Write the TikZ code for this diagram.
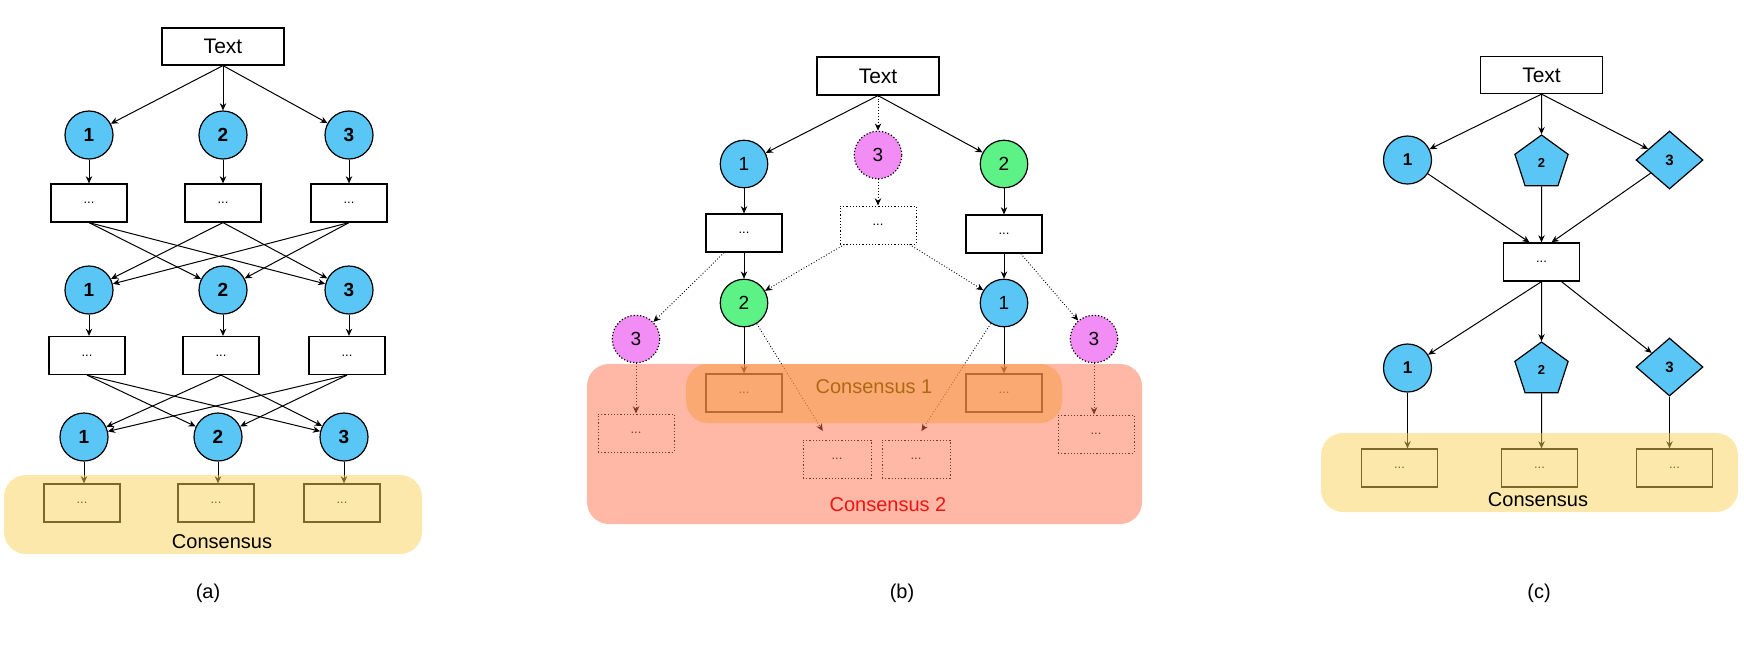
\documentclass[tikz,border=0pt]{standalone}
\usepackage{fontspec}
\setmainfont{Liberation Sans}
\usepackage{xcolor}
\usetikzlibrary{shapes.geometric,arrows.meta}

\definecolor{agblue}{RGB}{90,198,246}
\definecolor{aggreen}{RGB}{92,242,134}
\definecolor{agpink}{RGB}{242,141,245}
\definecolor{consyel}{RGB}{251,209,89}
\definecolor{conssal}{RGB}{255,111,77}
\definecolor{consora}{RGB}{247,157,66}
\definecolor{consbrown}{RGB}{172,106,20}
\definecolor{consred}{RGB}{238,20,20}

\begin{document}
\begin{tikzpicture}[x=0.5pt, y=-0.5pt, >={Stealth[length=3.6pt,width=3.2pt]}]
    \tikzstyle{txt} = [rectangle, draw, line width=0.6pt, minimum width=61pt, minimum height=18.5pt, inner sep=0pt, font=\fontsize{10.5}{12}\selectfont]
    \tikzstyle{box} = [rectangle, draw, line width=0.6pt, minimum width=38pt, minimum height=19pt, inner sep=0pt, font=\fontsize{6.5}{7}\selectfont]
    \tikzstyle{dotbox} = [box, densely dotted, line width=0.5pt]
    \tikzstyle{agent} = [circle, draw, line width=0.6pt, fill=agblue, minimum size=24pt, inner sep=0pt, font=\bfseries\fontsize{9.5}{10}\selectfont]
    \tikzstyle{oval} = [circle, draw, line width=0.6pt, minimum size=23.75pt, inner sep=0pt, font=\fontsize{9.5}{10}\selectfont]
    \tikzstyle{penta} = [regular polygon, regular polygon sides=5, draw, line width=0.6pt, fill=agblue, minimum size=28pt, inner sep=0pt, font=\bfseries\fontsize{6.5}{7}\selectfont]
    \tikzstyle{diam} = [diamond, draw, line width=0.6pt, fill=agblue, minimum width=33.5pt, minimum height=29pt, aspect=1.15, inner sep=0pt, font=\bfseries\fontsize{7.5}{8}\selectfont]
    \tikzstyle{flow} = [->, line width=0.5pt]
    \tikzstyle{maybe} = [->, densely dotted, line width=0.45pt]
    \tikzstyle{label} = [font=\fontsize{10}{12}\selectfont]

    \useasboundingbox (0,0) rectangle (1744,650);

    % (a)
    \node[txt] (aText) at (223,46.5) {Text};
    \node[agent, below of=aText, node distance=44.25pt] (aAg12) {2};
    \node[agent, left of=aAg12, node distance=67pt] (aAg11) {1};
    \node[agent, right of=aAg12, node distance=63pt] (aAg13) {3};
    \node[box, below of=aAg11, node distance=34pt] (aOut11) {...};
    \node[box, below of=aAg12, node distance=34pt] (aOut12) {...};
    \node[box, below of=aAg13, node distance=34pt] (aOut13) {...};
    \node[agent, below of=aOut11, node distance=43.5pt] (aAg21) {1};
    \node[agent, below of=aOut12, node distance=43.5pt] (aAg22) {2};
    \node[agent, below of=aOut13, node distance=43.5pt] (aAg23) {3};
    \node[box, below of=aAg21, node distance=32.75pt, xshift=-1pt] (aOut21) {...};
    \node[box, below of=aAg22, node distance=32.75pt, xshift=-1pt] (aOut22) {...};
    \node[box, below of=aAg23, node distance=32.75pt, xshift=-1pt] (aOut23) {...};
    \node[agent, below of=aOut21, node distance=40.75pt, xshift=-1.5pt] (aAg31) {1};
    \node[agent, below of=aOut22, node distance=40.75pt, xshift=-1.5pt] (aAg32) {2};
    \node[agent, below of=aOut23, node distance=40.75pt, xshift=-1.5pt] (aAg33) {3};
    \node[box, below of=aAg31, node distance=33pt, xshift=-1pt] (aCon1) {...};
    \node[box, below of=aAg32, node distance=33pt, xshift=-1pt] (aCon2) {...};
    \node[box, below of=aAg33, node distance=33pt, xshift=-1pt] (aCon3) {...};

    \draw[flow] (aText.south) -- (aAg11);
    \draw[flow] (aText.south) -- (aAg12);
    \draw[flow] (aText.south) -- (aAg13);
    \draw[flow] (aAg11) -- (aAg11 |- aOut11.north);
    \draw[flow] (aAg12) -- (aAg12 |- aOut12.north);
    \draw[flow] (aAg13) -- (aAg13 |- aOut13.north);
    \draw[flow] (aOut11.south) -- (aAg22);
    \draw[flow] (aOut11.south) -- (aAg23);
    \draw[flow] (aOut12.south) -- (aAg21);
    \draw[flow] (aOut12.south) -- (aAg23);
    \draw[flow] (aOut13.south) -- (aAg21);
    \draw[flow] (aOut13.south) -- (aAg22);
    \draw[flow] (aAg21) -- (aAg21 |- aOut21.north);
    \draw[flow] (aAg22) -- (aAg22 |- aOut22.north);
    \draw[flow] (aAg23) -- (aAg23 |- aOut23.north);
    \draw[flow] (aOut21.south) -- (aAg32);
    \draw[flow] (aOut21.south) -- (aAg33);
    \draw[flow] (aOut22.south) -- (aAg31);
    \draw[flow] (aOut22.south) -- (aAg33);
    \draw[flow] (aOut23.south) -- (aAg31);
    \draw[flow] (aOut23.south) -- (aAg32);
    \draw[flow] (aAg31) -- (aAg31 |- aCon1.north);
    \draw[flow] (aAg32) -- (aAg32 |- aCon2.north);
    \draw[flow] (aAg33) -- (aAg33 |- aCon3.north);

    \fill[consyel, fill opacity=0.5, rounded corners=11pt] (4,475) rectangle (422,554);
    \node[label] (aConsensus) at (222,542) {Consensus};
    \node[label] (aCaption) at (208,593) {(a)};

    % (b)
    \node[txt, minimum height=19pt] (bText) at (878,76) {Text};
    \node[oval, fill=agpink, densely dotted, below of=bText, node distance=39.5pt] (bAg3) {3};
    \node[oval, fill=agblue, below of=bText, node distance=44pt, xshift=-67pt] (bAg1) {1};
    \node[oval, fill=aggreen, below of=bText, node distance=44pt, xshift=63pt] (bAg2) {2};
    \node[box, below of=bAg1, node distance=34.5pt] (bOut1) {...};
    \node[dotbox, below of=bAg3, node distance=35pt] (bOut3) {...};
    \node[box, below of=bAg2, node distance=35pt] (bOut2) {...};
    \node[oval, fill=aggreen, below of=bOut1, node distance=35pt] (bRe2) {2};
    \node[oval, fill=agblue, below of=bOut2, node distance=34.5pt] (bRe1) {1};
    \node[oval, fill=agpink, densely dotted, below of=bRe2, node distance=18pt, xshift=-54pt] (bRe3a) {3};
    \node[oval, fill=agpink, densely dotted, below of=bRe1, node distance=18pt, xshift=45pt] (bRe3b) {3};
    \node[box, below of=bRe2, node distance=45pt] (bCon2) {...};
    \node[box, below of=bRe1, node distance=45pt] (bCon1) {...};
    \node[dotbox, below of=bRe3a, node distance=47pt] (bDot3a) {...};
    \node[dotbox, below of=bRe3b, node distance=47.5pt, xshift=1pt] (bDot3b) {...};
    \node[dotbox, minimum width=34pt, below of=bRe2, node distance=78pt, xshift=46.5pt] (bDot2) {...};
    \node[dotbox, minimum width=34pt, below of=bRe1, node distance=78pt, xshift=-44pt] (bDot1) {...};

    \draw[flow] (bText.south) -- (bAg1);
    \draw[maybe] (bText.south) -- (bAg3);
    \draw[flow] (bText.south) -- (bAg2);
    \draw[flow] (bAg1) -- (bAg1 |- bOut1.north);
    \draw[maybe] (bAg3) -- (bAg3 |- bOut3.north);
    \draw[flow] (bAg2) -- (bAg2 |- bOut2.north);
    \draw[flow] (bOut1) -- (bRe2);
    \draw[maybe] (bOut1) -- (bRe3a);
    \draw[maybe] (bOut3) -- (bRe2);
    \draw[maybe] (bOut3) -- (bRe1);
    \draw[flow] (bOut2) -- (bRe1);
    \draw[maybe] (bOut2) -- (bRe3b);
    \draw[flow] (bRe2) -- (bRe2 |- bCon2.north);
    \draw[flow] (bRe1) -- (bRe1 |- bCon1.north);
    \draw[maybe, shorten >=5pt] (bRe2) -- ([xshift=-4.5pt]bDot2.north);
    \draw[maybe, shorten >=5pt] (bRe1) -- (bDot1.north);
    \draw[maybe] (bRe3a) -- (bRe3a |- bDot3a.north);
    \draw[maybe] (bRe3b) -- (bRe3b |- bDot3b.north);

    \fill[conssal, fill opacity=0.5, rounded corners=11pt] (587,364) rectangle (1142,524);
    \fill[consora, fill opacity=0.5, rounded corners=11pt] (686,364) rectangle (1062,423);
    \node[label, text=consbrown] (bConsensusA) at (874,387) {Consensus 1};
    \node[label, text=consred] (bConsensusB) at (888,505) {Consensus 2};
    \node[label] (bCaption) at (902,593) {(b)};

    % (c)
    \node[txt] (cText) at (1541.5,75) {Text};
    \node[penta, below of=cText, node distance=44pt] (cAg2) {2};
    \node[agent, left of=cAg2, node distance=67pt, yshift=1.5pt, font=\bfseries\fontsize{8.5}{10}\selectfont] (cAg1) {1};
    \node[diam, right of=cAg2, node distance=64pt, yshift=1.5pt] (cAg3) {3};
    \node[box, below of=cAg2, node distance=49.5pt] (cMid) {...};
    \node[penta, below of=cMid, node distance=54pt] (cBg2) {2};
    \node[agent, left of=cBg2, node distance=67pt, yshift=1pt, font=\bfseries\fontsize{8.5}{10}\selectfont] (cBg1) {1};
    \node[diam, right of=cBg2, node distance=64pt, yshift=1.5pt] (cBg3) {3};
    \node[box, below of=cBg1, node distance=50pt, xshift=-4pt] (cCon1) {...};
    \node[box, below of=cBg2, node distance=49pt, xshift=-1pt] (cCon2) {...};
    \node[box, below of=cBg3, node distance=50.5pt, xshift=2.5pt] (cCon3) {...};

    \draw[flow] (cText.south) -- (cAg1);
    \draw[flow] (cText.south) -- (cAg2);
    \draw[flow] (cText.south) -- (cAg3);
    \draw[flow] (cAg1) -- ([xshift=-6pt]cMid.north);
    \draw[flow] (cAg2) -- (cAg2 |- cMid.north);
    \draw[flow] (cAg3) -- ([xshift=5pt]cMid.north);
    \draw[flow] (cMid.south) -- (cBg1);
    \draw[flow] (cMid.south) -- (cBg2);
    \draw[flow] ([xshift=10pt]cMid.south) -- (cBg3);
    \draw[flow] (cBg1) -- (cBg1 |- cCon1.north);
    \draw[flow] (cBg2) -- (cBg2 |- cCon2.north);
    \draw[flow] (cBg3) -- (cBg3 |- cCon3.north);

    \fill[consyel, fill opacity=0.5, rounded corners=11pt] (1321,433) rectangle (1738,512);
    \node[label] (cConsensus) at (1538,500) {Consensus};
    \node[label] (cCaption) at (1539,593) {(c)};
\end{tikzpicture}
\end{document}
